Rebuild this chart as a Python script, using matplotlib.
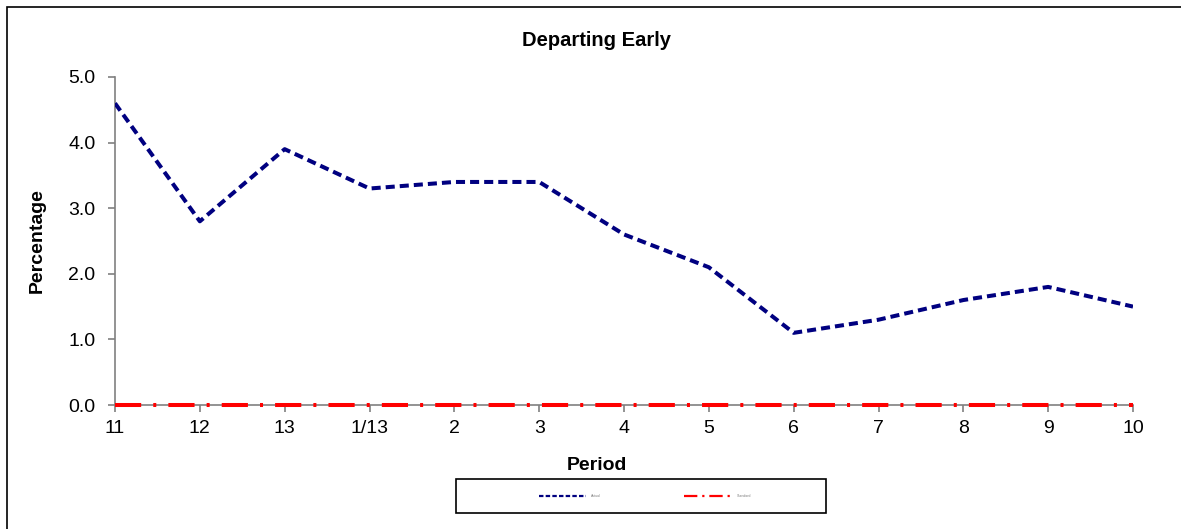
import matplotlib.pyplot as plt
from matplotlib.lines import Line2D
from matplotlib.patches import Rectangle

plt.rcParams['font.family'] = ['Liberation Sans', 'DejaVu Sans']

periods = ['11', '12', '13', '1/13', '2', '3', '4', '5', '6', '7', '8', '9', '10']
departing = [4.6, 2.8, 3.9, 3.3, 3.4, 3.4, 2.6, 2.1, 1.1, 1.3, 1.6, 1.8, 1.5]
baseline = [0.0] * len(periods)
series_names = ['Actual', 'Standard']

W, H = 1181, 529
fig = plt.figure(figsize=(W / 100, H / 100), dpi=100)

# outer chart frame (clipped at right/bottom like the original)
fig.patches.append(Rectangle((7 / W, -0.1), 1.2, 1 - 7 / H + 0.1,
                             transform=fig.transFigure, fill=False,
                             edgecolor='black', linewidth=1.2))

ax = fig.add_axes([115 / W, 1 - 405 / H, (1133 - 115) / W, (405 - 77) / H])
x = list(range(len(periods)))

ax.plot(x, departing, color='#000080', linewidth=2.9, linestyle=(0, (2.25, 1.25)), zorder=3)
ax.plot(x, baseline, color='#ff0000', linewidth=2.9, linestyle=(0, (6.5, 3.0, 0.75, 3.0)),
        zorder=3, clip_on=False)

ax.set_xlim(0, len(periods) - 1)
ax.set_ylim(0, 5)
ax.set_xticks(x)
ax.set_xticklabels(periods)
ax.set_yticks([0, 1, 2, 3, 4, 5])
ax.set_yticklabels(['%.1f' % v for v in [0, 1, 2, 3, 4, 5]])

for s in ['top', 'right']:
    ax.spines[s].set_visible(False)
for s in ['left', 'bottom']:
    ax.spines[s].set_color('#808080')
    ax.spines[s].set_linewidth(1.2)
ax.tick_params(axis='both', colors='#808080', labelcolor='black', labelsize=14,
               length=5, width=1.2, direction='out')
ax.tick_params(axis='y', pad=9)
ax.tick_params(axis='x', pad=6)

fig.text(37 / W, 1 - 241 / H, 'Percentage', rotation=90, ha='center', va='center',
         fontsize=14, fontweight='bold')
fig.text(597 / W, 1 - 465 / H, 'Period', ha='center', va='center',
         fontsize=14, fontweight='bold')
fig.text(597 / W, 1 - 41 / H, 'Departing Early', ha='center', va='center',
         fontsize=14.5, fontweight='bold')

# legend box drawn separately, entries (thinner, like the original) placed inside it
fig.patches.append(Rectangle((456 / W, 1 - 513 / H), 370 / W, 34 / H,
                             transform=fig.transFigure, fill=False,
                             edgecolor='black', linewidth=1.2))
handles = [Line2D([], [], color='#000080', linewidth=1.6, linestyle=(0, (2.0, 1.0))),
           Line2D([], [], color='#ff0000', linewidth=1.6, linestyle=(0, (6.0, 2.2, 1.0, 2.2)))]
fig.legend(handles, series_names, loc='center', bbox_to_anchor=(645 / W, 1 - 496 / H),
           ncol=2, frameon=False, fontsize=2.5, handlelength=13.5, columnspacing=24,
           handletextpad=1.5, labelcolor='#808080')

fig.savefig('out.png', dpi=100)
